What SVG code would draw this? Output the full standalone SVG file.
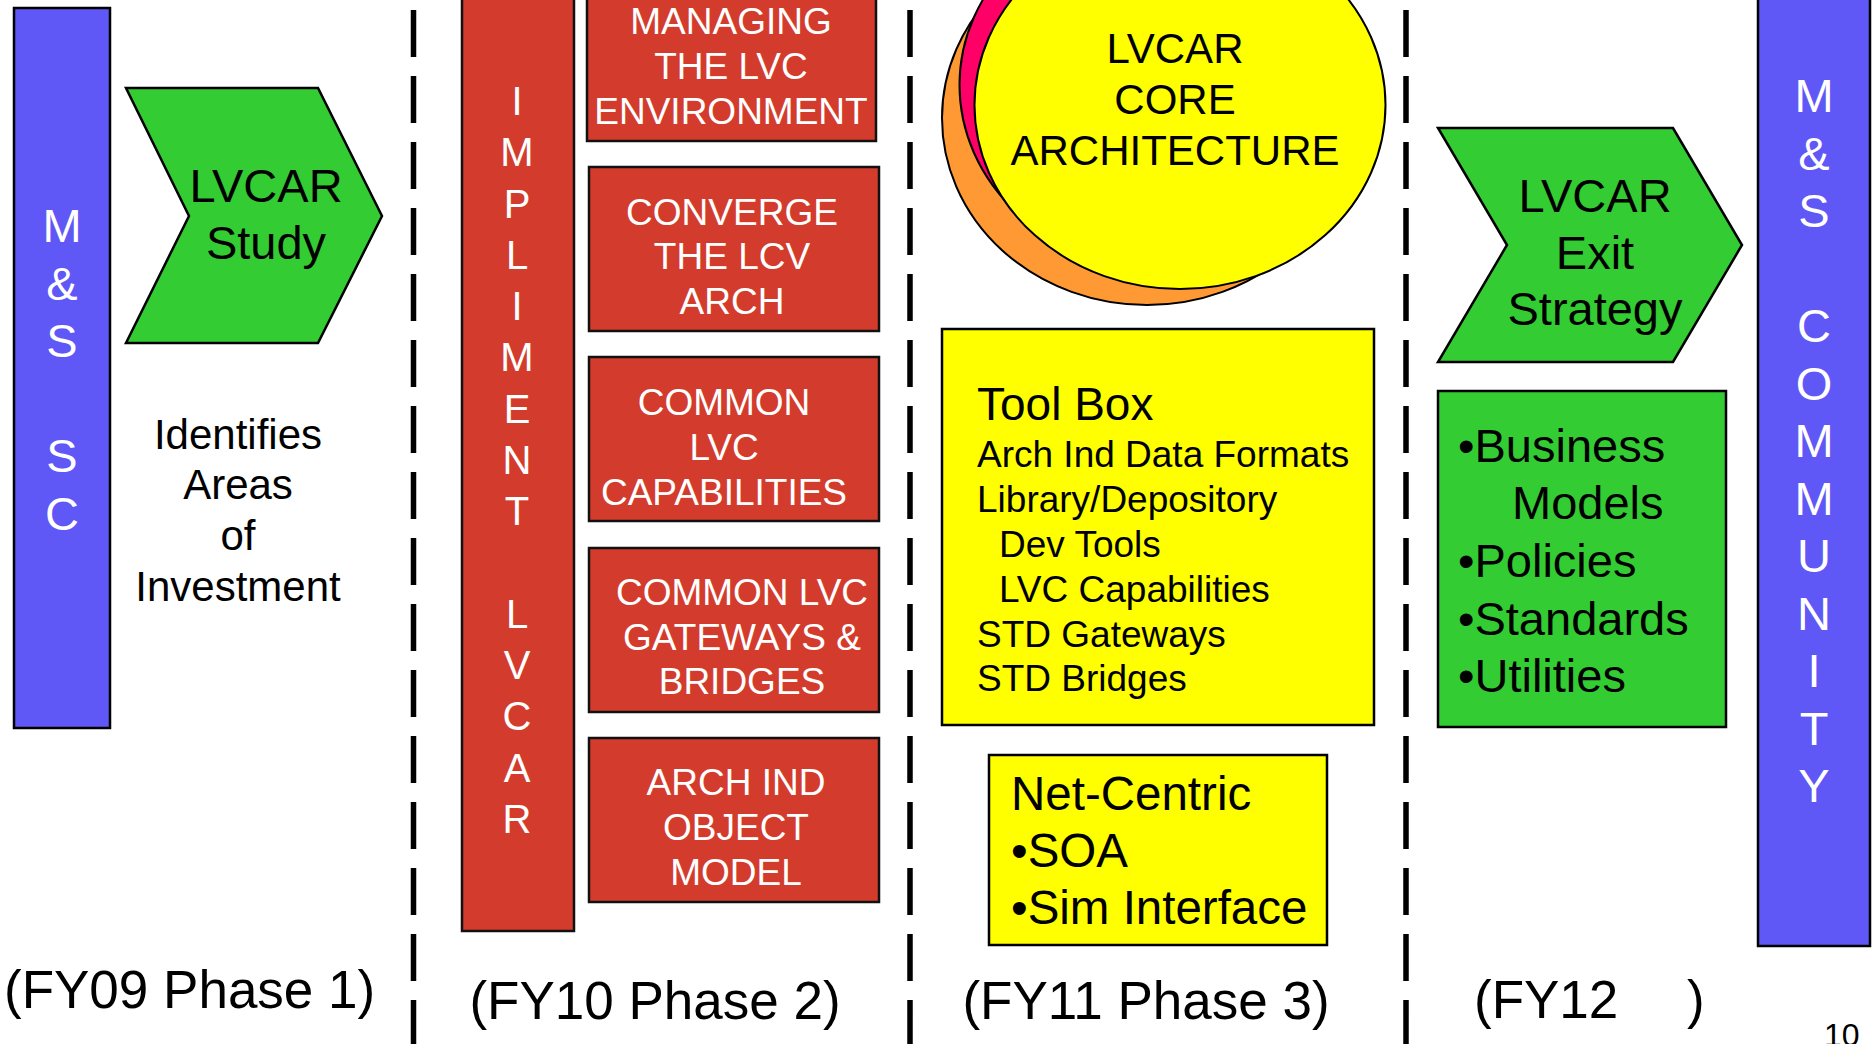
<svg xmlns="http://www.w3.org/2000/svg" width="1874" height="1044" viewBox="0 0 1874 1044">
<style>
text{font-family:"Liberation Sans",Arial,sans-serif;}
.w{fill:#fff;}
.k{fill:#000;}
.c{text-anchor:middle;}
.blue{fill:#6057F7;stroke:#000;stroke-width:2.5;}
.red{fill:#D33C2C;stroke:#111;stroke-width:2.5;}
.grn{fill:#33CC33;stroke:#000;stroke-width:2.5;}
.yel{fill:#FFFF00;stroke:#000;stroke-width:2.5;}
.dash{stroke:#000;stroke-width:5.5;stroke-dasharray:47 19;fill:none;}
</style>
<rect width="1874" height="1044" fill="#fff"/>
<g id="dividers">
<line class="dash" x1="413.5" y1="10" x2="413.5" y2="1044"/>
<line class="dash" x1="910" y1="10" x2="910" y2="1044"/>
<line class="dash" x1="1406" y1="10" x2="1406" y2="1044"/>
</g>
<g id="ms-sc">
<rect class="blue" x="14" y="8" width="96" height="720"/>
<text class="w c" font-size="47"><tspan x="62" y="242">M</tspan><tspan x="62" y="300">&amp;</tspan><tspan x="62" y="357">S</tspan><tspan x="62" y="472">S</tspan><tspan x="62" y="530">C</tspan></text>
</g>
<g id="lvcar-study">
<polygon class="grn" points="126,88 318,88 382,216 318,343 126,343 189,216"/>
<text class="k c" font-size="47"><tspan x="266" y="202">LVCAR</tspan><tspan x="266" y="259">Study</tspan></text>
</g>
<g id="identifies">
<text class="k c" font-size="42"><tspan x="238" y="449">Identifies</tspan><tspan x="238" y="499">Areas</tspan><tspan x="238" y="550">of</tspan><tspan x="238" y="601">Investment</tspan></text>
</g>
<g id="impliment-lvcar">
<rect class="red" x="462" y="-5" width="112" height="936"/>
<text class="w c" font-size="40"><tspan x="517" y="115">I</tspan><tspan x="517" y="166">M</tspan><tspan x="517" y="218">P</tspan><tspan x="517" y="269">L</tspan><tspan x="517" y="320">I</tspan><tspan x="517" y="371">M</tspan><tspan x="517" y="423">E</tspan><tspan x="517" y="474">N</tspan><tspan x="517" y="525">T</tspan><tspan x="517" y="628">L</tspan><tspan x="517" y="679">V</tspan><tspan x="517" y="730">C</tspan><tspan x="517" y="782">A</tspan><tspan x="517" y="833">R</tspan></text>
</g>
<g id="managing">
<rect class="red" x="587" y="-5" width="289" height="146"/>
<text class="w c" font-size="37"><tspan x="731" y="34">MANAGING</tspan><tspan x="731" y="79">THE LVC</tspan><tspan x="731" y="124">ENVIRONMENT</tspan></text>
</g>
<g id="converge">
<rect class="red" x="589" y="167" width="290" height="164"/>
<text class="w c" font-size="37"><tspan x="732" y="225">CONVERGE</tspan><tspan x="732" y="269">THE LCV</tspan><tspan x="732" y="314">ARCH</tspan></text>
</g>
<g id="common-capabilities">
<rect class="red" x="589" y="357" width="290" height="164"/>
<text class="w c" font-size="37"><tspan x="724" y="415">COMMON</tspan><tspan x="724" y="460">LVC</tspan><tspan x="724" y="505">CAPABILITIES</tspan></text>
</g>
<g id="gateways-bridges">
<rect class="red" x="589" y="548" width="290" height="164"/>
<text class="w c" font-size="37"><tspan x="742" y="605">COMMON LVC</tspan><tspan x="742" y="650">GATEWAYS &amp;</tspan><tspan x="742" y="694">BRIDGES</tspan></text>
</g>
<g id="object-model">
<rect class="red" x="589" y="738" width="290" height="164"/>
<text class="w c" font-size="37"><tspan x="736" y="795">ARCH IND</tspan><tspan x="736" y="840">OBJECT</tspan><tspan x="736" y="885">MODEL</tspan></text>
</g>
<g id="core-architecture">
<ellipse cx="1147" cy="118" rx="205" ry="187" fill="#FF9933" stroke="#000" stroke-width="2"/>
<ellipse cx="1165" cy="85" rx="205.5" ry="184" fill="#FF0066" stroke="#000" stroke-width="2"/>
<ellipse cx="1180" cy="105" rx="205.5" ry="184" fill="#FFFF00" stroke="#000" stroke-width="2"/>
<text class="k c" font-size="42"><tspan x="1175" y="63">LVCAR</tspan><tspan x="1175" y="114">CORE</tspan><tspan x="1175" y="165">ARCHITECTURE</tspan></text>
</g>
<g id="tool-box">
<rect class="yel" x="942" y="329" width="432" height="396"/>
<text class="k" font-size="46" x="977" y="420">Tool Box</text>
<text class="k" font-size="37"><tspan x="977" y="467">Arch Ind Data Formats</tspan><tspan x="977" y="512">Library/Depository</tspan><tspan x="999" y="557">Dev Tools</tspan><tspan x="999" y="602">LVC Capabilities</tspan><tspan x="977" y="647">STD Gateways</tspan><tspan x="977" y="691">STD Bridges</tspan></text>
</g>
<g id="net-centric">
<rect class="yel" x="989" y="755" width="338" height="190"/>
<text class="k" font-size="47.5"><tspan x="1011" y="810">Net-Centric</tspan><tspan x="1011" y="867">•SOA</tspan><tspan x="1011" y="924">•Sim Interface</tspan></text>
</g>
<g id="exit-strategy">
<polygon class="grn" points="1438,128 1673,128 1742,245 1673,362 1438,362 1507,245"/>
<text class="k c" font-size="47"><tspan x="1595" y="212">LVCAR</tspan><tspan x="1595" y="269">Exit</tspan><tspan x="1595" y="325">Strategy</tspan></text>
</g>
<g id="business">
<rect class="grn" x="1438" y="391" width="288" height="336"/>
<text class="k" font-size="47"><tspan x="1458" y="462">•Business</tspan><tspan x="1512" y="519">Models</tspan><tspan x="1458" y="577">•Policies</tspan><tspan x="1458" y="635">•Standards</tspan><tspan x="1458" y="692">•Utilities</tspan></text>
</g>
<g id="ms-community">
<rect class="blue" x="1758" y="-5" width="112" height="951"/>
<text class="w c" font-size="47"><tspan x="1814" y="112">M</tspan><tspan x="1814" y="170">&amp;</tspan><tspan x="1814" y="227">S</tspan><tspan x="1814" y="342">C</tspan><tspan x="1814" y="400">O</tspan><tspan x="1814" y="457">M</tspan><tspan x="1814" y="515">M</tspan><tspan x="1814" y="572">U</tspan><tspan x="1814" y="630">N</tspan><tspan x="1814" y="687">I</tspan><tspan x="1814" y="745">T</tspan><tspan x="1814" y="802">Y</tspan></text>
</g>
<g id="phases">
<text class="k" font-size="53" x="4" y="1008">(FY09 Phase 1)</text>
<text class="k c" font-size="53" x="655" y="1019">(FY10 Phase 2)</text>
<text class="k c" font-size="53" x="1146" y="1019">(FY11 Phase 3)</text>
<text class="k" font-size="53" y="1018"><tspan x="1474">(FY12</tspan><tspan x="1687">)</tspan></text>
<text class="k" font-size="32" x="1824" y="1046">10</text>
</g>
</svg>
